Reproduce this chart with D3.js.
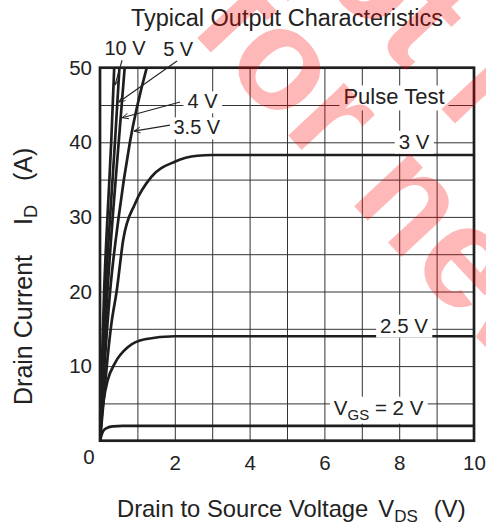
<!DOCTYPE html>
<html>
<head>
<meta charset="utf-8">
<script src="https://cdn.jsdelivr.net/npm/d3@7"></script>
<style>
body { margin: 0; background: #fff; }
text { font-family: "Liberation Sans", Arial, sans-serif; fill: #222; }
</style>
</head>
<body>
<svg id="chart" width="486" height="526"></svg>
<script>
const width = 486,
	height = 526;

const xTicks = [2, 4, 6, 8, 10],
	yTicks = [10, 20, 30, 40, 50];

// curves: [V_DS (V), I_D (A)]
const vgs2  = [[0, 0], [0.05, 0.9], [0.1, 1.4], [0.2, 1.75], [0.35, 1.92], [0.6, 2], [10, 2]];
const vgs25 = [[0, 0], [0.05, 3.5], [0.1, 5.5], [0.2, 8], [0.4, 10.4], [0.76, 12.6], [1.2, 13.6], [2, 14], [10, 14]];
const vgs3  = [[0, 0], [0.1, 5.5], [0.2, 11], [0.3, 15.5], [0.45, 20.2], [0.62, 26.9], [0.94, 31.8], [1.38, 35.4], [2, 37.4], [2.6, 38.2], [3, 38.3], [10, 38.3]];
const vgs35 = [[0, 0], [0.12, 10], [0.27, 20], [0.5, 30], [0.8, 40], [1.25, 50]];
const vgs4  = [[0, 0], [0.09, 10], [0.2, 20], [0.34, 30], [0.5, 40], [0.66, 50]];
const vgs5  = [[0, 0], [0.07, 10], [0.15, 20], [0.27, 30], [0.4, 40], [0.52, 50]];
const vgs10 = [[0, 0], [0.05, 10], [0.11, 20], [0.2, 30], [0.3, 40], [0.38, 50]];

const curves = [vgs2, vgs25, vgs3, vgs35, vgs4, vgs5, vgs10];

const xScale = d3.scaleLinear()
	.domain([0, 10])
	.range([100, 474]);

const yScale = d3.scaleLinear()
	.domain([0, 50])
	.range([440.7, 67.7]);

const line = d3.line()
	.x(d => xScale(d[0]))
	.y(d => yScale(d[1]))
	.curve(d3.curveMonotoneX);

// V_DS on a curve for a given I_D
function vdsAt(curve, id) {
	for (let i = 1; i < curve.length; i++) {
		const [x0, y0] = curve[i - 1], [x1, y1] = curve[i];
		if (id <= y1) return x0 + (x1 - x0) * (id - y0) / (y1 - y0);
	}
	return curve[curve.length - 1][0];
}

const chart = d3.select("#chart");
const x0 = xScale(0), x1 = xScale(10), y0 = yScale(0), y1 = yScale(50);

chart.append("defs").append("clipPath").attr("id", "plot")
	.append("rect")
	.attr("x", x0).attr("y", y1)
	.attr("width", x1 - x0).attr("height", y0 - y1);

chart.select("defs").append("marker")
	.attr("id", "arrow")
	.attr("viewBox", "0 0 10 10")
	.attr("refX", 10).attr("refY", 5)
	.attr("markerWidth", 9).attr("markerHeight", 7)
	.attr("markerUnits", "userSpaceOnUse")
	.attr("orient", "auto")
	.append("path")
	.attr("d", "M1,1L10,5L1,9")
	.attr("fill", "none")
	.attr("stroke", "#222")
	.attr("stroke-width", 1.3);

// grid
chart.append("g")
	.attr("transform", `translate(0,${y0})`)
	.call(d3.axisBottom(xScale).tickValues(d3.range(0, 11)).tickSize(-(y0 - y1)).tickFormat(""))
	.call(g => g.select(".domain").remove())
	.selectAll("line").attr("stroke", "#333").attr("stroke-width", 1);

chart.append("g")
	.attr("transform", `translate(${x0},0)`)
	.call(d3.axisLeft(yScale).tickValues(d3.range(0, 51, 5)).tickSize(-(x1 - x0)).tickFormat(""))
	.call(g => g.select(".domain").remove())
	.selectAll("line").attr("stroke", "#333").attr("stroke-width", 1);

// curves
chart.append("g")
	.attr("clip-path", "url(#plot)")
	.selectAll("path.curve")
	.data(curves)
	.join("path")
	.attr("class", "curve")
	.attr("fill", "none")
	.attr("stroke", "#1e1e1e")
	.attr("stroke-width", 2.7)
	.attr("d", line);

// frame
chart.append("rect")
	.attr("x", x0).attr("y", y1)
	.attr("width", x1 - x0).attr("height", y0 - y1)
	.attr("fill", "none")
	.attr("stroke", "#1e1e1e")
	.attr("stroke-width", 2.7);

// tick labels
chart.append("g")
	.attr("transform", `translate(0,${y0})`)
	.call(d3.axisBottom(xScale).tickValues(xTicks).tickSize(0).tickPadding(15))
	.call(g => g.select(".domain").remove())
	.selectAll("text")
	.attr("font-size", 20.5)
	.attr("font-family", "Liberation Sans, Arial, sans-serif")
	.attr("fill", "#222");

chart.append("g")
	.attr("transform", `translate(${x0},0)`)
	.call(d3.axisLeft(yScale).tickValues(yTicks).tickSize(0).tickPadding(8))
	.call(g => g.select(".domain").remove())
	.selectAll("text")
	.attr("font-size", 20.5)
	.attr("font-family", "Liberation Sans, Arial, sans-serif")
	.attr("fill", "#222");

chart.append("text")
	.attr("x", x0 - 11).attr("y", y0 + 16)
	.attr("dy", "0.35em")
	.attr("text-anchor", "middle")
	.attr("font-size", 20.5)
	.text("0");

// curve labels: centre in data units, boxed ones sit on a grid line
const labels = [
	{parts: [["10 V"]], x: 0.67, y: 52.6, box: false, size: 20},
	{parts: [["5 V"]], x: 2.09, y: 52.5, box: false, size: 20},
	{parts: [["4 V"]], x: 2.74, y: 45.5, box: true, size: 20},
	{parts: [["3.5 V"]], x: 2.59, y: 42.0, box: true, size: 20},
	{parts: [["Pulse Test"]], x: 7.86, y: 46.1, box: true, size: 22},
	{parts: [["3 V"]], x: 8.4, y: 40.1, box: true, size: 20.5},
	{parts: [["2.5 V"]], x: 8.13, y: 15.45, box: true, size: 20.5},
	{parts: [["V"], ["GS", "sub"], [" = 2 V"]], x: 7.45, y: 4.45, box: true, size: 20.5}
];

labels.forEach(d => {
	const g = chart.append("g");
	const t = g.append("text")
		.attr("x", xScale(d.x)).attr("y", yScale(d.y))
		.attr("dy", "0.35em")
		.attr("text-anchor", "middle")
		.attr("font-size", d.size)
		.style("white-space", "pre");
	d.parts.forEach(p => {
		const s = t.append("tspan").text(p[0]);
		if (p[1] === "sub") s.attr("font-size", 15).attr("dy", 5);
		else if (d.parts.length > 1 && p !== d.parts[0]) s.attr("dy", -5);
	});
	if (d.box) {
		const b = t.node().getBBox();
		g.insert("rect", "text")
			.attr("x", b.x - 4).attr("y", b.y + 1)
			.attr("width", b.width + 8).attr("height", b.height)
			.attr("fill", "#fff");
	}
});

// leader arrows: from a point in data units to the curve at a given I_D
const leaders = [
	{from: [0.59, 51.0], curve: vgs10, id: 47.7},
	{from: [2.06, 50.9], curve: vgs5, id: 45.4},
	{from: [2.14, 45.4], curve: vgs4, id: 43.3},
	{from: [1.87, 42.3], curve: vgs35, id: 41.5}
];

chart.append("g")
	.selectAll("line")
	.data(leaders)
	.join("line")
	.attr("x1", d => xScale(d.from[0]))
	.attr("y1", d => yScale(d.from[1]))
	.attr("x2", d => xScale(vdsAt(d.curve, d.id)) + 1.5)
	.attr("y2", d => yScale(d.id))
	.attr("stroke", "#222")
	.attr("stroke-width", 1.1)
	.attr("marker-end", "url(#arrow)");

// titles
chart.append("text")
	.attr("x", 287).attr("y", 26)
	.attr("text-anchor", "middle")
	.attr("font-size", 23.5)
	.text("Typical Output Characteristics");

const xt = chart.append("text")
	.attr("x", 117).attr("y", 517)
	.attr("font-size", 23.8);
xt.append("tspan").text("Drain to Source Voltage");
xt.append("tspan").text("V").attr("dx", 10);
xt.append("tspan").text("DS").attr("font-size", 17).attr("dy", 5);
xt.append("tspan").text("(V)").attr("dx", 16).attr("dy", -5);

const yt = chart.append("text")
	.attr("transform", "translate(32,405) rotate(-90)")
	.attr("font-size", 25);
yt.append("tspan").text("Drain Current");
yt.append("tspan").text("I").attr("dx", 30);
yt.append("tspan").text("D").attr("font-size", 18).attr("dy", 5);
yt.append("tspan").text("(A)").attr("dx", 24).attr("dy", -5);

// red watermark across the page
const wm = chart.append("g")
	.attr("transform", "translate(188,28) rotate(47)")
	.attr("font-size", 145)
	.attr("font-weight", "bold");
wm.append("text").attr("x", 0).attr("y", 0).style("fill", "#ff0000").style("fill-opacity", 0.28).text("for new designs");
wm.append("text").attr("x", -60).attr("y", -130).style("fill", "#ff0000").style("fill-opacity", 0.28).text("Not recommended");
</script>
</body>
</html>
